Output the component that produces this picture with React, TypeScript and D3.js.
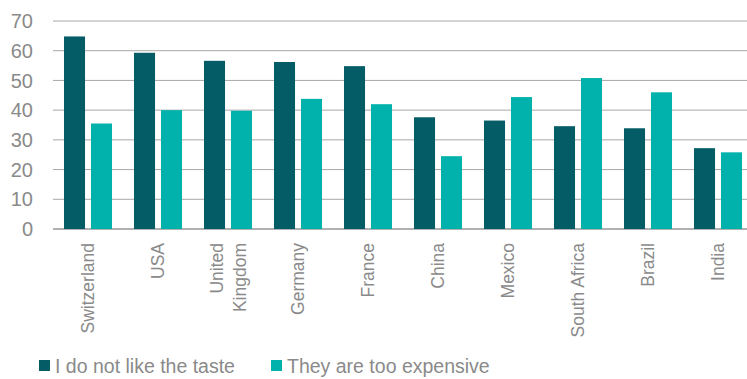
import React from "react";
import * as d3 from "d3";

const categories = ["Switzerland", "USA", "United Kingdom", "Germany", "France", "China", "Mexico", "South Africa", "Brazil", "India"];
const categoryLines = [["Switzerland"], ["USA"], ["United", "Kingdom"], ["Germany"], ["France"], ["China"], ["Mexico"], ["South Africa"], ["Brazil"], ["India"]];
const tasteValues = [64.8, 59.3, 56.6, 56.2, 54.8, 37.6, 36.5, 34.6, 33.9, 27.2];
const expensiveValues = [35.5, 40.0, 39.8, 43.8, 42.0, 24.5, 44.4, 50.8, 46.0, 25.8];
const seriesNames = ["I do not like the taste", "They are too expensive"];
const yTicks = [0, 10, 20, 30, 40, 50, 60, 70];

const W = 747;
const H = 379;
const colors = ["#035c66", "#00b1ac"];
const textColor = "#8a8a8a";
const font = "'Liberation Sans', Arial, Helvetica, sans-serif";

export default function App() {
  const x = d3.scaleBand<string>().domain(categories).range([53, 753]).paddingInner(0.314).paddingOuter(0.157);
  const xs = d3.scaleBand<string>().domain(["a", "b"]).range([0, x.bandwidth()]).paddingInner(0.22);
  const y = d3.scaleLinear().domain([0, 70]).range([229, 21]);
  const series = [tasteValues, expensiveValues];

  return (
    <svg width={W} height={H} style={{ position: "absolute", left: 0, top: 0, background: "#fff" }} fontFamily={font}>
      {yTicks.map((t) => (
        <g key={t}>
          <line x1={53} x2={W} y1={y(t)} y2={y(t)} stroke={t === 0 ? "#b0b0b0" : "#a8a8a8"} strokeWidth={t === 0 ? 2 : 1} />
          <text x={33} y={y(t)} dy="0.36em" textAnchor="end" fontSize={20} fill={textColor}>{t}</text>
        </g>
      ))}
      {categories.map((c, i) => (
        <g key={c}>
          {series.map((vals, s) => (
            <rect
              key={s}
              x={(x(c) as number) + (xs(s === 0 ? "a" : "b") as number)}
              y={y(vals[i])}
              width={xs.bandwidth()}
              height={y(0) - y(vals[i])}
              fill={colors[s]}
            />
          ))}
        </g>
      ))}
      {categories.map((c, i) => {
        const cx = (x(c) as number) + x.bandwidth() / 2;
        const lines = categoryLines[i];
        const lh = 23;
        return (
          <text key={c} transform={`translate(${cx},243) rotate(-90)`} textAnchor="end" fontSize={17.5} fill={textColor}>
            {lines.map((l, k) => (
              <tspan key={k} x={0} y={(k - (lines.length - 1) / 2) * lh} dy="0.35em">{l}</tspan>
            ))}
          </text>
        );
      })}
      {seriesNames.map((n, s) => {
        const lx = s === 0 ? 39 : 271;
        return (
          <g key={n}>
            <rect x={lx} y={360} width={11} height={11} fill={colors[s]} />
            <text x={lx + 16} y={366} dy="0.35em" fontSize={19.5} fill={textColor}>{n}</text>
          </g>
        );
      })}
    </svg>
  );
}
